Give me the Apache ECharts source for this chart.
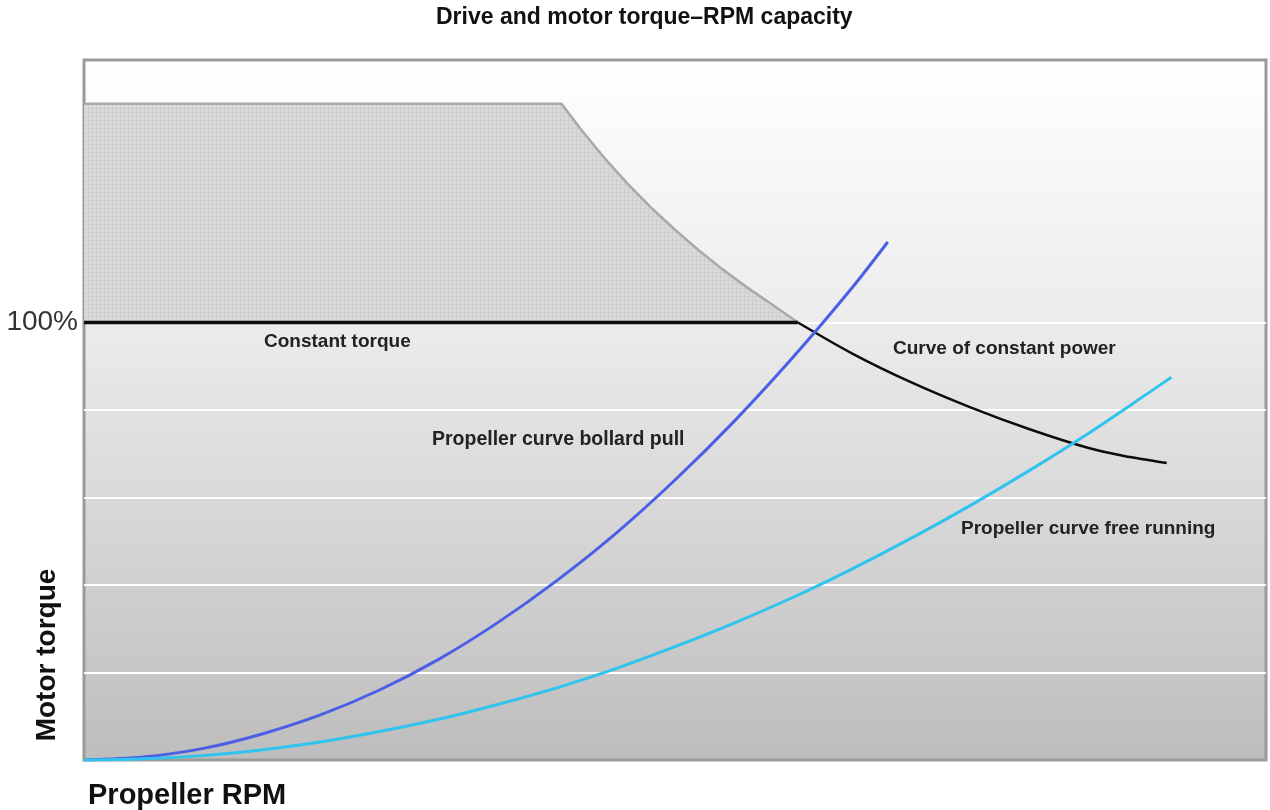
<!DOCTYPE html>
<html>
<head>
<meta charset="utf-8">
<script src="https://cdn.jsdelivr.net/npm/echarts@6/dist/echarts.min.js"></script>
<style>
  html, body { margin: 0; padding: 0; background: #fff; }
  #chart { width: 1270px; height: 810px; }
</style>
</head>
<body>
<div id="chart"></div>
<script>
// values (x = RPM in % of range, y = torque in %)
var gridValues = [20, 40, 60, 80, 100]
var icebreakingLimit = [[0, 150], [40.4, 150], [42, 144.3], [44, 137.7], [46, 131.7], [48, 126.2], [50, 121.2], [52, 116.5], [54, 112.2], [56, 108.2], [58, 104.5], [60.4, 100]]
var constantTorque = [[0, 100], [60.4, 100]]
var constantPower = [[60.4, 100], [65, 92.9], [70, 86.3], [75, 80.6], [80, 75.6], [85, 71.3], [88, 69.5], [91.6, 67.9]]
var bollardPull = [[0, 0], [5, 0.7], [10, 2.6], [15, 5.9], [20, 10.3], [25, 16.0], [30, 23.0], [35, 31.4], [40, 41.0], [45, 51.8], [50, 64.0], [55, 77.4], [60, 92.1], [65, 108.0], [68, 118.4]]
var freeRunning = [[0, 0], [5, 0.3], [10, 1.0], [15, 2.3], [20, 4.1], [25, 6.5], [30, 9.3], [35, 12.7], [40, 16.5], [45, 20.9], [50, 25.9], [55, 31.3], [60, 37.2], [65, 43.7], [70, 50.7], [75, 58.2], [80, 66.2], [85, 74.7], [90, 83.8], [92, 87.5]]

var chart = echarts.init(document.getElementById('chart'))

// fine checkered texture for the icebreaking area
var tex = document.createElement('canvas')
tex.width = 4
tex.height = 4
var ctx = tex.getContext('2d')
ctx.fillStyle = '#dadada'
ctx.fillRect(0, 0, 4, 4)
ctx.fillStyle = '#cfcfcf'
ctx.fillRect(0, 0, 4, 1)
ctx.fillRect(0, 0, 1, 4)

var labelFont = 'Liberation Sans, Arial, sans-serif'

chart.setOption({
  animation: false,
  title: {
    text: 'Drive and motor torque\u2013RPM capacity',
    left: 431,
    top: 1,
    textStyle: { fontFamily: labelFont, fontSize: 23, fontWeight: 'bold', color: '#111' }
  },
  grid: {
    left: 84,
    right: 4,
    top: 60,
    bottom: 50,
    show: true,
    borderColor: '#9a9a9a',
    borderWidth: 3,
    backgroundColor: {
      type: 'linear', x: 0, y: 0, x2: 0, y2: 1,
      colorStops: [
        { offset: 0, color: '#ffffff' },
        { offset: 0.37, color: '#ececec' },
        { offset: 1, color: '#bdbdbd' }
      ]
    }
  },
  xAxis: {
    type: 'value',
    min: 0,
    max: 100,
    axisLine: { show: false },
    axisTick: { show: false },
    axisLabel: { show: false },
    splitLine: { show: false }
  },
  yAxis: {
    type: 'value',
    min: 0,
    max: 160,
    interval: 20,
    axisLine: { show: false },
    axisTick: { show: false },
    splitLine: { show: false },
    axisLabel: {
      margin: 6,
      fontFamily: labelFont,
      fontSize: 28,
      color: '#333',
      formatter: function(v) { return v === 100 ? '100%' : '' }
    }
  },
  graphic: [
    {
      type: 'text', left: 264, top: 172,
      style: { text: 'Additional cyclic\ntorque for icebreaking', font: 'bold 19px ' + labelFont, fill: '#222', lineHeight: 26 }
    },
    {
      type: 'text', left: 264, top: 332,
      style: { text: 'Constant torque', font: 'bold 19px ' + labelFont, fill: '#222' }
    },
    {
      type: 'text', left: 893, top: 339,
      style: { text: 'Curve of constant power', font: 'bold 19px ' + labelFont, fill: '#222' }
    },
    {
      type: 'text', left: 432, top: 430,
      style: { text: 'Propeller curve bollard pull', font: 'bold 19.5px ' + labelFont, fill: '#222' }
    },
    {
      type: 'text', left: 961, top: 519,
      style: { text: 'Propeller curve free running', font: 'bold 19px ' + labelFont, fill: '#222' }
    },
    {
      type: 'text', left: 88, top: 781,
      style: { text: 'Propeller RPM', font: 'bold 29px ' + labelFont, fill: '#111' }
    },
    {
      type: 'text', x: 47, y: 655, rotation: Math.PI / 2,
      style: { text: 'Motor torque', font: 'bold 28px ' + labelFont, fill: '#111', align: 'center', verticalAlign: 'middle' }
    }
  ],
  series: [
    {
      name: 'grid',
      type: 'line',
      z: 0,
      data: [],
      markLine: {
        silent: true,
        symbol: 'none',
        label: { show: false },
        lineStyle: { color: '#ffffff', width: 2, type: 'solid' },
        data: gridValues.map(function(v) { return { yAxis: v } })
      }
    },
    {
      name: 'Additional cyclic torque',
      type: 'line',
      z: 2,
      data: icebreakingLimit,
      symbol: 'none',
      lineStyle: { color: '#a9a9a9', width: 2.5 },
      areaStyle: { origin: 100, color: { image: tex, repeat: 'repeat' }, opacity: 1 }
    },
    {
      name: 'Constant torque',
      type: 'line',
      z: 10,
      data: constantTorque,
      symbol: 'none',
      lineStyle: { color: '#0d0d0d', width: 3.5 }
    },
    {
      name: 'Constant power',
      type: 'line',
      z: 10,
      data: constantPower,
      smooth: 0.3,
      symbol: 'none',
      lineStyle: { color: '#0d0d0d', width: 2.5 }
    },
    {
      name: 'Bollard pull',
      type: 'line',
      z: 11,
      data: bollardPull,
      smooth: 0.3,
      symbol: 'none',
      lineStyle: { color: '#4b5fe6', width: 3 }
    },
    {
      name: 'Free running',
      type: 'line',
      z: 11,
      data: freeRunning,
      smooth: 0.3,
      symbol: 'none',
      lineStyle: { color: '#2fc3ee', width: 3 }
    }
  ]
})
</script>
</body>
</html>
